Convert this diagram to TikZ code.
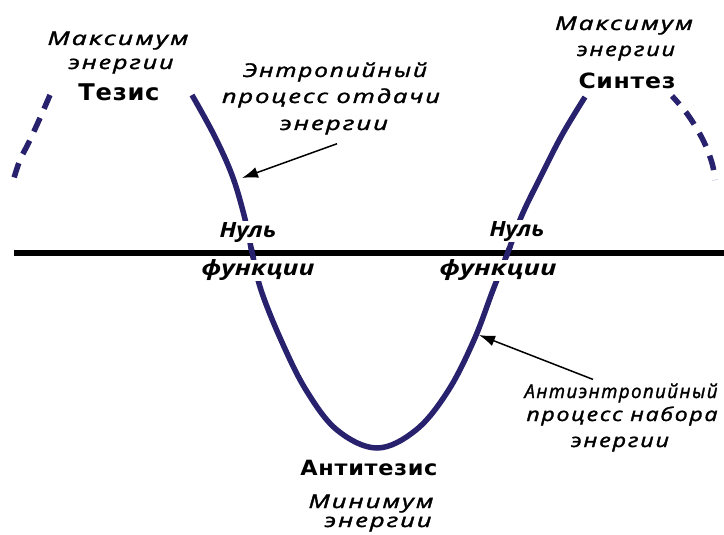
\documentclass[tikz,border=0pt]{standalone}
\usepackage{graphicx}
\usepackage{fontspec}
\setmainfont{Open Sans}
\newfontfamily\spfont[LetterSpace=8, FakeBold=1.6]{Open Sans}
\newfontfamily\bdfont[LetterSpace=3]{DejaVu Sans}
\usetikzlibrary{arrows.meta}
\definecolor{wave}{RGB}{40,34,110}
\newcommand\fw[2]{\resizebox{#1pt}{\height}{#2}}
\begin{document}
\begin{tikzpicture}[x=1pt,y=-1pt,
  lbl/.style={font=\spfont\itshape\fontsize{19}{22}\selectfont, inner sep=0pt, anchor=base},
  hd/.style={font=\bdfont\bfseries\fontsize{21}{24}\selectfont, inner sep=0pt, anchor=base},
  zl/.style={font=\bfseries\itshape\fontsize{21}{24}\selectfont, inner sep=1pt, anchor=base, fill=white},
  waveline/.style={draw=wave, line width=5.5pt},
  wavedash/.style={draw=wave, line width=5.5pt, dash pattern=on 15pt off 10pt},
  axis/.style={draw=black, line width=5.5pt},
  ptr/.style={draw=black, line width=1.5pt, -{Latex[length=16pt,width=11pt]}}]
\useasboundingbox (0,0) rectangle (724,535);
\fill[white] (0,0) rectangle (724,535);
\def\wavepath{plot[smooth,tension=0.6] coordinates {(192,95) (214,135) (232,175) (244,215) (252,252) (261,290) (281,340) (306,390) (337,430) (377,448) (416,430) (448,391) (474,340) (493,290) (508,252) (522,215) (540,178) (562,135) (585,97)}}
% wave
\path[waveline] \wavepath;
\path[wavedash] plot[smooth,tension=0.6] coordinates {(50,95) (40,118) (29,142) (20,160) (14,178)};
\path[wavedash, dash phase=4pt] plot[smooth,tension=0.6] coordinates {(672,96) (688,115) (703,140) (712,163) (715,180)};
% zero labels
\node[zl] (nulL) at (248,237) {\fw{57}{Нуль}};
\node[zl] (funL) at (258,275) {\fw{113}{функции}};
\node[zl] (nulR) at (517,236) {\fw{55}{Нуль}};
\node[zl] (funR) at (498,275) {\fw{117}{функции}};
% axis
\coordinate (axL) at (14,253);
\coordinate (axR) at (724,253);
\path[axis] (axL) -- (axR);
\begin{scope}
\clip (0,247) rectangle (724,259);
\path[waveline] \wavepath;
\end{scope}
% top left
\node[lbl] (maxL) at (118,45) {\fw{141}{Максимум}};
\node[lbl] (enL) at (121,69) {\fw{105}{энергии}};
\node[hd, font=\bdfont\bfseries\fontsize{23}{26}\selectfont] (tez) at (119,100) {\fw{81}{Тезис}};
% entropy
\node[lbl] (ent1) at (335,77) {\fw{184}{Энтропийный}};
\node[lbl] (ent2) at (331,103) {\fw{218}{процесс отдачи}};
\node[lbl] (ent3) at (334,130) {\fw{108}{энергии}};
% top right
\node[lbl] (maxR) at (624,30) {\fw{138}{Максимум}};
\node[lbl] (enR) at (626,56) {\fw{98}{энергии}};
\node[hd] (sin) at (627,89) {\fw{97}{Синтез}};
% antientropy
\node[lbl] (ae1) at (621,398) {\fw{193}{Антиэнтропийный}};
\node[lbl] (ae2) at (622,421) {\fw{191}{процесс набора}};
\node[lbl] (ae3) at (620,447) {\fw{98}{энергии}};
% bottom
\node[hd] (ant) at (369,475) {\fw{137}{Антитезис}};
\node[lbl] (minB) at (371,508) {\fw{125}{Минимум}};
\node[lbl] (enB) at (378,527) {\fw{107}{энергии}};
% arrows
\coordinate (tipA) at (242,178);
\coordinate (tipB) at (479,335);
\path[ptr] ([xshift=3pt,yshift=-9pt]ent3.south) -- (tipA);
\path[ptr] ([xshift=-28pt,yshift=4pt]ae1.north) -- (tipB);
\end{tikzpicture}
\end{document}
